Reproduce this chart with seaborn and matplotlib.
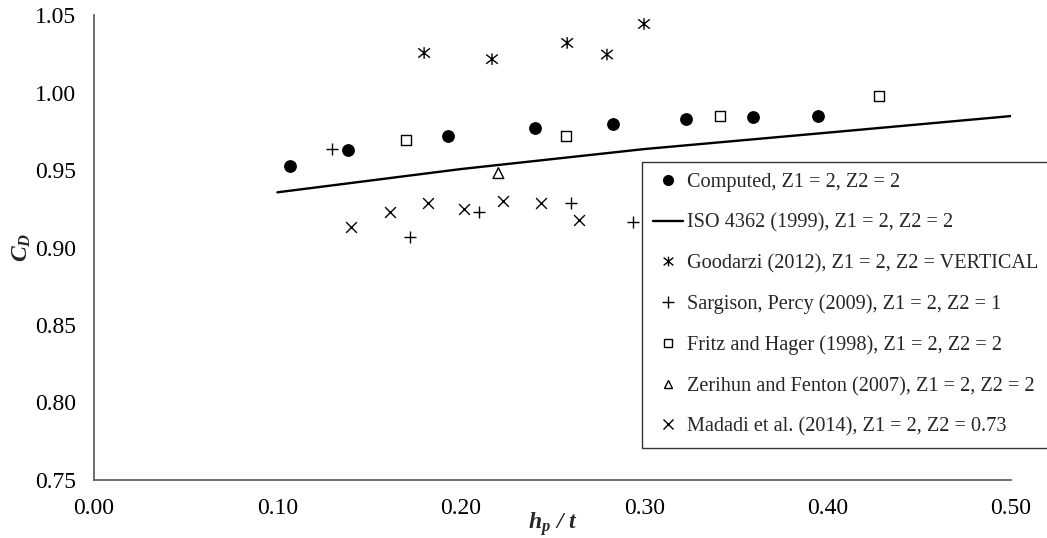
import matplotlib
matplotlib.use("Agg")
import matplotlib.pyplot as plt
import seaborn as sns
import numpy as np
from matplotlib.path import Path
from matplotlib.lines import Line2D

# ---- data ----
computed_x = [0.107, 0.1385, 0.193, 0.2405, 0.283, 0.323, 0.3593, 0.3948]
computed_y = [0.9526, 0.963, 0.972, 0.977, 0.980, 0.983, 0.9842, 0.9848]

iso_x = [0.1, 0.2, 0.3, 0.4, 0.5]
iso_y = [0.9356, 0.9506, 0.9635, 0.9741, 0.9848]

goodarzi_x = [0.180, 0.217, 0.258, 0.2797, 0.2999]
goodarzi_y = [1.0255, 1.0215, 1.032, 1.0245, 1.0442]

sargison_x = [0.1298, 0.1723, 0.210, 0.260, 0.2939]
sargison_y = [0.9635, 0.9068, 0.9229, 0.9287, 0.9165]

fritz_x = [0.170, 0.2574, 0.3413, 0.428]
fritz_y = [0.9694, 0.972, 0.9848, 0.9977]

zerihun_x = [0.2205]
zerihun_y = [0.948]

madadi_x = [0.140, 0.1615, 0.182, 0.2015, 0.223, 0.244, 0.2645]
madadi_y = [0.913, 0.9229, 0.9287, 0.9248, 0.930, 0.9287, 0.9177]

labels = [
    "Computed, Z1 = 2, Z2 = 2",
    "ISO 4362 (1999), Z1 = 2, Z2 = 2",
    "Goodarzi (2012), Z1 = 2, Z2 = VERTICAL",
    "Sargison, Percy (2009), Z1 = 2, Z2 = 1",
    "Fritz and Hager (1998), Z1 = 2, Z2 = 2",
    "Zerihun and Fenton (2007), Z1 = 2, Z2 = 2",
    "Madadi et al. (2014), Z1 = 2, Z2 = 0.73",
]
x_ticks = [0.0, 0.1, 0.2, 0.3, 0.4, 0.5]
y_ticks = [0.75, 0.80, 0.85, 0.90, 0.95, 1.00, 1.05]

# ---- style ----
sns.set_theme(style="white")
plt.rcParams['font.family'] = ['Liberation Serif', 'DejaVu Serif']
plt.rcParams['mathtext.fontset'] = 'custom'
plt.rcParams['mathtext.rm'] = 'Liberation Serif:bold:italic'
plt.rcParams['mathtext.it'] = 'Liberation Serif:bold:italic'
plt.rcParams['mathtext.bf'] = 'Liberation Serif:bold:italic'

star = Path([(-1, -0.8), (1, 0.8), (-1, 0.8), (1, -0.8), (0, -1.0), (0, 1.0)],
            [Path.MOVETO, Path.LINETO, Path.MOVETO, Path.LINETO, Path.MOVETO, Path.LINETO])

fig = plt.figure(figsize=(10.47, 5.38), dpi=100)
ax = fig.add_axes([94/1047, 1-480/538, (1011-94)/1047, (480-15)/538])

k = 'black'
sns.lineplot(x=iso_x, y=iso_y, ax=ax, color=k, lw=1.7)
sns.scatterplot(x=computed_x, y=computed_y, ax=ax, marker='o', s=85, color=k, edgecolor=k, linewidth=0)
sns.scatterplot(x=goodarzi_x, y=goodarzi_y, ax=ax, marker=star, s=70, facecolor='none', edgecolor=k, linewidth=1.0)
sns.scatterplot(x=sargison_x, y=sargison_y, ax=ax, marker='+', s=75, color=k, linewidth=1.0)
sns.scatterplot(x=fritz_x, y=fritz_y, ax=ax, marker='s', s=55, facecolor='none', edgecolor=k, linewidth=1.0)
sns.scatterplot(x=zerihun_x, y=zerihun_y, ax=ax, marker='^', s=60, facecolor='none', edgecolor=k, linewidth=1.0)
sns.scatterplot(x=madadi_x, y=madadi_y, ax=ax, marker='x', s=60, color=k, linewidth=1.0)

ax.set_xlim(0, 0.5)
ax.set_ylim(0.75, 1.05)
ax.set_xticks(x_ticks)
ax.set_yticks(y_ticks)
ax.set_xticklabels([f"{v:.2f}" for v in x_ticks])
ax.set_yticklabels([f"{v:.2f}" for v in y_ticks])
ax.tick_params(axis='both', labelsize=17, direction='out', length=5, width=1, color='#555555', labelcolor='black')
ax.tick_params(axis='x', pad=8)
ax.tick_params(axis='y', pad=8)
for side in ['top', 'right']:
    ax.spines[side].set_visible(False)
for side in ['left', 'bottom']:
    ax.spines[side].set_color('#555555')
    ax.spines[side].set_linewidth(1.2)

ax.set_xlabel(r"$h_p\ /\ t$", fontsize=17, labelpad=0)
ax.xaxis.set_label_coords((553-94)/(1011-94), -0.064)
ax.set_ylabel(r"$C_D$", fontsize=17, labelpad=2)
ax.yaxis.set_label_coords(-0.066, 0.5)

handles = [
    Line2D([], [], marker='o', color=k, ls='', markersize=8, mew=0),
    Line2D([], [], color=k, lw=1.7),
    Line2D([], [], marker=star, color=k, ls='', markersize=7, mew=1.0),
    Line2D([], [], marker='+', color=k, ls='', markersize=8, mew=1.0),
    Line2D([], [], marker='s', color=k, mfc='none', ls='', markersize=6, mew=1.0),
    Line2D([], [], marker='^', color=k, mfc='none', ls='', markersize=6, mew=1.0),
    Line2D([], [], marker='x', color=k, ls='', markersize=7, mew=1.0),
]
leg = fig.legend(handles, labels, loc='upper left', bbox_to_anchor=(642/1047, 1-162/538),
                 fontsize=14.6, frameon=True, fancybox=False, edgecolor='black',
                 labelspacing=1.05, handlelength=1.45, handletextpad=0.2, borderpad=0.55,
                 borderaxespad=0)
leg.get_frame().set_linewidth(1.0)

fig.savefig("out.png", dpi=100)
